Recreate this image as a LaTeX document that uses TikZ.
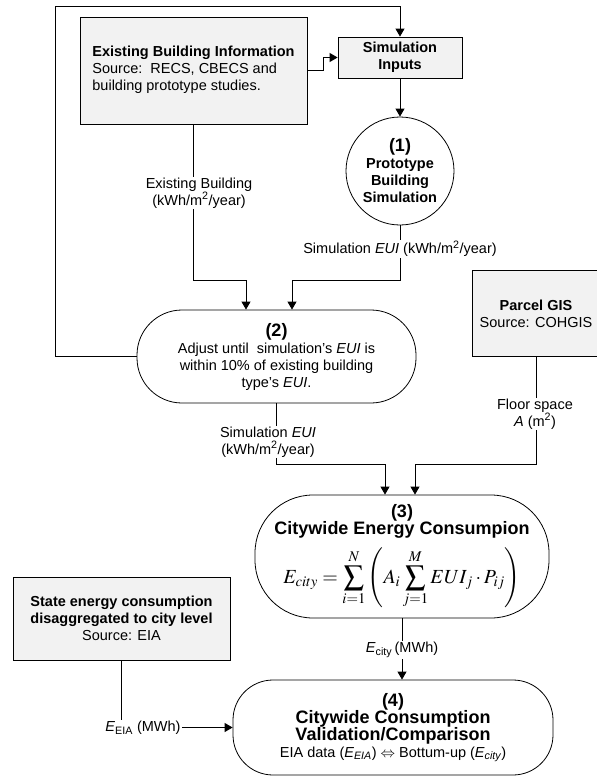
\documentclass[tikz,border=0pt]{standalone}
\usepackage{mathptmx}
\usepackage{fontspec}
\setmainfont{Liberation Sans}
\usetikzlibrary{arrows.meta}
\definecolor{boxgray}{RGB}{242,242,242}
\tikzset{
  base/.style={font=\fontsize{14.5}{17}\selectfont, align=center, inner sep=0pt},
  graybox/.style={base, draw, fill=boxgray, line width=0.8pt},
  procnode/.style={base, draw, line width=0.8pt},
  conn/.style={line width=0.9pt},
  arr/.style={conn, -{Triangle[length=8pt,width=9pt]}},
  lbl/.style={base, fill=white, inner sep=1pt},
}
\newcommand{\hd}[1]{{\fontsize{18}{19}\selectfont\bfseries #1}}
\begin{document}
\begin{tikzpicture}[x=1pt,y=1pt]
\useasboundingbox (0,0) rectangle (597,-777);
% boxes
\node[graybox, minimum width=227pt, minimum height=107pt] (ebi) at (193.5,-70.5)
  {\begin{tabular}{@{}l@{}}\multicolumn{1}{@{}c@{}}{\textbf{Existing Building Information}}\\Source:\ \ RECS, CBECS and\\building prototype studies.\end{tabular}};
\node[graybox, minimum width=124pt, minimum height=41pt] (si) at (400,-57.5)
  {\textbf{Simulation}\\\textbf{Inputs}};
\node[procnode, circle, minimum size=108pt] (c1) at (400,-171)
  {\hd{(1)}\\\textbf{Prototype}\\\textbf{Building}\\\textbf{Simulation}};
\node[procnode, rounded corners=45pt, minimum width=279pt, minimum height=93pt] (n2) at (276.5,-356.5)
  {\hd{(2)}\\Adjust until\ \ simulation's \textit{EUI} is\\within 10\% of existing building\\type's \textit{EUI}.};
\node[graybox, minimum width=128pt, minimum height=86pt] (pgis) at (536,-313.5)
  {\textbf{Parcel GIS}\\Source: COHGIS};
\node[procnode, rounded corners=58pt, minimum width=294pt, minimum height=123pt] (n3) at (402,-556.5)
  {\hd{(3)}\\\hd{Citywide Energy Consumpion}\\[9pt]
   {\fontsize{20}{23}\selectfont $\displaystyle E_{city}=\sum_{i=1}^{N}\left(A_i\sum_{j=1}^{M}EUI_j\cdot P_{ij}\right)$}};
\node[graybox, minimum width=217pt, minimum height=83pt] (state) at (121.5,-618.5)
  {\textbf{State energy consumption}\\\textbf{disaggregated to city level}\\Source: EIA};
\node[procnode, rounded corners=40pt, minimum width=320pt, minimum height=95pt] (n4) at (393,-727.5)
  {\hd{(4)}\\\hd{Citywide Consumption}\\\hd{Validation/Comparison}\\EIA data (\textit{E\textsubscript{EIA}}) $\Leftrightarrow$ Bottum-up (\textit{E\textsubscript{city}})};
% coordinates
\coordinate (loopTL) at (55,-6);
\coordinate (elbow1) at (323,-70.5);
\coordinate (a2) at (246,-280);
\coordinate (b2) at (292,-280);
\coordinate (c3) at (385,-464);
\coordinate (d3) at (415,-464);
% connectors
\draw[arr] (n2.west) -| (loopTL) -| (si.north);
\draw[arr] (ebi.east) -- (elbow1) |- (si.west);
\draw[arr] (si.south) -- (c1.north);
\draw[arr] (ebi.south) |- (a2) -- (a2 |- n2.north);
\draw[arr] (c1.south) |- (b2) -- (b2 |- n2.north);
\draw[arr] (n2.south) |- (c3) -- (c3 |- n3.north);
\draw[arr] (pgis.south) |- (d3) -- (d3 |- n3.north);
\draw[arr] (n3.south) -- (n3.south |- n4.north);
\draw[arr] (state.south) |- (n4.west);
% labels
\node[lbl] (lEB) at (199,-193) {Existing Building\\(kWh/m\textsuperscript{2}/year)};
\node[lbl] (lSE1) at (400,-249) {Simulation \textit{EUI} (kWh/m\textsuperscript{2}/year)};
\node[lbl] (lSE2) at (268,-442) {Simulation \textit{EUI}\\(kWh/m\textsuperscript{2}/year)};
\node[lbl] (lFS) at (535,-414) {Floor space\\\textit{A} (m\textsuperscript{2})};
\node[lbl] (lEC) at (402,-650) {\textit{E}\textsubscript{city}\,(MWh)};
\node[lbl] (lEE) at (143,-728) {\textit{E}\textsubscript{EIA} (MWh)};
\end{tikzpicture}
\end{document}
